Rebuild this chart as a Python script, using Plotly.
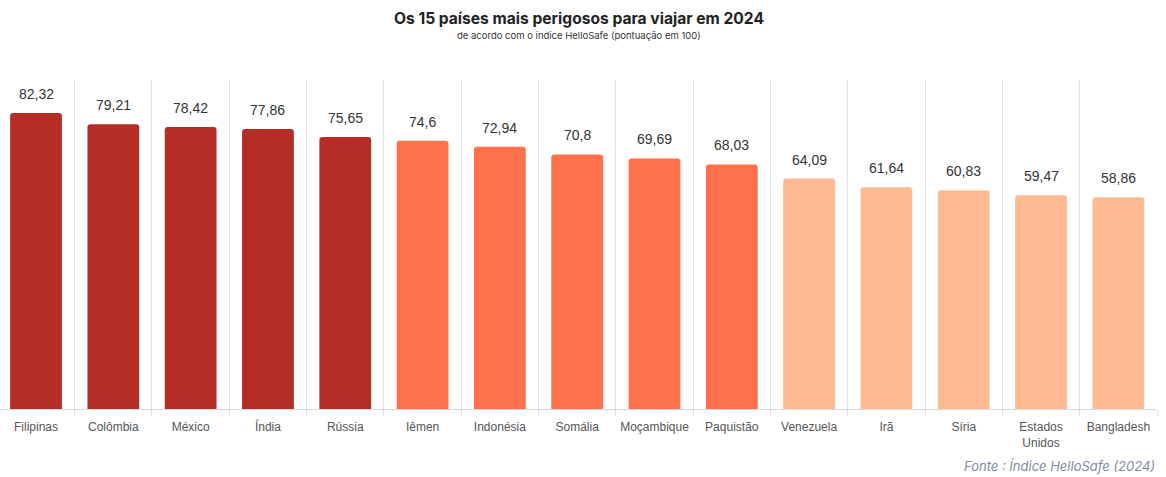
import plotly.graph_objects as go

countries = ["Filipinas", "Colômbia", "México", "Índia", "Rússia", "Iêmen", "Indonésia",
             "Somália", "Moçambique", "Paquistão", "Venezuela", "Irã", "Síria",
             "Estados<br>Unidos", "Bangladesh"]
scores = [82.32, 79.21, 78.42, 77.86, 75.65, 74.6, 72.94, 70.8, 69.69, 68.03,
          64.09, 61.64, 60.83, 59.47, 58.86]
tiers = [0, 0, 0, 0, 0, 1, 1, 1, 1, 1, 2, 2, 2, 2, 2]
tier_colors = ["#B52E25", "#FF714A", "#FEBA91"]

colors = [tier_colors[t] for t in tiers]
labels = [str(v).replace(".", ",") for v in scores]

fig = go.Figure()
fig.add_trace(go.Bar(
    x=countries, y=scores,
    marker=dict(color=colors, cornerradius=3, line=dict(width=0)),
    width=0.67,
    hoverinfo="skip",
))
for c, v, t in zip(countries, scores, labels):
    fig.add_annotation(x=c, y=v, text=t, showarrow=False, yanchor="bottom", yshift=9,
                       font=dict(family="Liberation Sans, Arial", size=14, color="#333333"))

fig.add_annotation(xref="paper", yref="paper", x=0.5, y=1, yshift=50, xanchor="center", yanchor="bottom",
                   text="<b>Os 15 países mais perigosos para viajar em 2024</b>", showarrow=False,
                   font=dict(family="Inter, Roboto, sans-serif", size=15.6, color="#222222"))
fig.add_annotation(xref="paper", yref="paper", x=0.5, y=1, yshift=37, xanchor="center", yanchor="bottom",
                   text="de acordo com o índice HelloSafe (pontuação em 100)", showarrow=False,
                   font=dict(family="Inter, Roboto, sans-serif", size=9.5, color="#333333"))
fig.add_annotation(xref="paper", yref="paper", x=1, y=0, yshift=-47, xanchor="right", yanchor="top",
                   text="<i>Fonte : Índice HelloSafe (2024)</i>", showarrow=False,
                   font=dict(family="Inter, Roboto, sans-serif", size=13, color="#7F8AA3"))

fig.update_layout(
    width=1166, height=477,
    margin=dict(l=0, r=9, t=80, b=68, autoexpand=False),
    plot_bgcolor="white", paper_bgcolor="white",
    showlegend=False,
    xaxis=dict(
        type="category", tickson="boundaries", showgrid=True, gridcolor="#E3E3E3", gridwidth=1,
        ticks="outside", ticklen=6, tickcolor="#E3E3E3", tickangle=0, automargin=False,
        ticklabelstandoff=7,
        range=[-0.466, 14.5],
        showline=True, linecolor="#D9D9D9", linewidth=1,
        tickfont=dict(family="Liberation Sans, Arial", size=12, color="#555555"),
        fixedrange=True,
    ),
    yaxis=dict(range=[0, 91.5], showgrid=False, showticklabels=False, zeroline=False,
               fixedrange=True, automargin=False),
)

fig.write_html("out.html", config={"displayModeBar": False},
               post_script="document.body.style.margin='0';")
